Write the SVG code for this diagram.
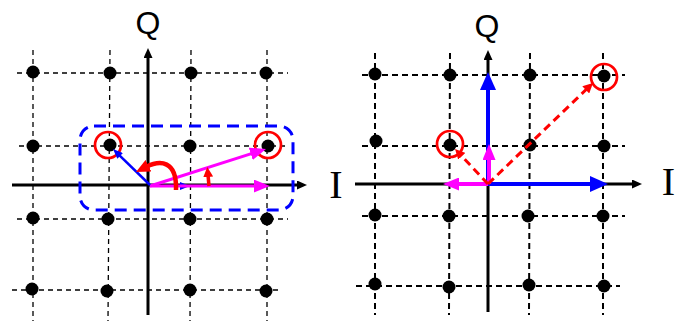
<svg xmlns="http://www.w3.org/2000/svg" width="685" height="321" viewBox="0 0 685 321">
<style>
.gl{stroke:#000;stroke-width:1.3;stroke-dasharray:5 4;fill:none}
.gr{stroke:#000;stroke-width:2;stroke-dasharray:6 4;fill:none}
.ax{stroke:#000;stroke-width:3;fill:none}
.dot{fill:#000}
.ring{fill:none;stroke:#ff0000;stroke-width:2.7}
.lbl{font-family:"Liberation Sans",Arial,sans-serif;font-size:32px;fill:#000}
.lblI{font-family:"Liberation Serif","Times New Roman",serif;font-size:40px;fill:#000}
</style>
<defs>
<marker id="mAx" markerUnits="userSpaceOnUse" markerWidth="10" markerHeight="9" viewBox="0 0 10 10" preserveAspectRatio="none" refX="2" refY="5" orient="auto"><path d="M0,0 L10,5 L0,10 z" fill="#000"/></marker>
<marker id="mMag" markerUnits="userSpaceOnUse" markerWidth="16" markerHeight="13" viewBox="0 0 10 10" preserveAspectRatio="none" refX="2" refY="5" orient="auto"><path d="M0,0 L10,5 L0,10 z" fill="#ff00ff"/></marker>
<marker id="mBlueB" markerUnits="userSpaceOnUse" markerWidth="18" markerHeight="16" viewBox="0 0 10 10" preserveAspectRatio="none" refX="2" refY="5" orient="auto"><path d="M0,0 L10,5 L0,10 z" fill="#0000ff"/></marker>
<marker id="mBlueS" markerUnits="userSpaceOnUse" markerWidth="10" markerHeight="8" viewBox="0 0 10 10" preserveAspectRatio="none" refX="2" refY="5" orient="auto"><path d="M0,0 L10,5 L0,10 z" fill="#0000ff"/></marker>
<marker id="mRed" markerUnits="userSpaceOnUse" markerWidth="10" markerHeight="10" viewBox="0 0 10 10" preserveAspectRatio="none" refX="2" refY="5" orient="auto"><path d="M0,0 L10,5 L0,10 z" fill="#ff0000"/></marker>
<marker id="mRedB" markerUnits="userSpaceOnUse" markerWidth="14" markerHeight="13" viewBox="0 0 10 10" preserveAspectRatio="none" refX="2" refY="5" orient="auto"><path d="M0,0 L10,5 L0,10 z" fill="#ff0000"/></marker>
</defs>

<g id="left-panel">
  <g id="left-grid">
    <line class="gl" x1="33" y1="50" x2="33" y2="321"/>
    <line class="gl" x1="110" y1="50" x2="108" y2="321"/>
    <line class="gl" x1="191" y1="50" x2="190" y2="321"/>
    <line class="gl" x1="267" y1="50" x2="267" y2="321"/>
    <line class="gl" x1="17" y1="73" x2="288" y2="73"/>
    <line class="gl" x1="19" y1="146" x2="288" y2="146"/>
    <line class="gl" x1="17" y1="219" x2="288" y2="219"/>
    <line class="gl" x1="12" y1="290" x2="282" y2="290"/>
  </g>
  <g id="left-axes">
    <line class="ax" x1="12" y1="185" x2="299" y2="185" marker-end="url(#mAx)"/>
    <line class="ax" x1="148" y1="315" x2="148" y2="56" marker-end="url(#mAx)"/>
    <text class="lbl" x="148" y="34" text-anchor="middle">Q</text>
    <text class="lblI" x="336" y="198" text-anchor="middle">I</text>
  </g>
  <g id="left-points">
    <circle class="dot" cx="33" cy="72" r="6.5"/><circle class="dot" cx="110" cy="73" r="6.5"/><circle class="dot" cx="191" cy="73" r="6.5"/><circle class="dot" cx="266" cy="73" r="6.5"/>
    <circle class="dot" cx="33" cy="146" r="6.5"/><circle class="dot" cx="110" cy="145" r="6.5"/><circle class="dot" cx="190" cy="146" r="6.5"/><circle class="dot" cx="268" cy="146" r="6.5"/>
    <circle class="dot" cx="33" cy="218" r="6.5"/><circle class="dot" cx="108" cy="219" r="6.5"/><circle class="dot" cx="190" cy="219" r="6.5"/><circle class="dot" cx="267" cy="219" r="6.5"/>
    <circle class="dot" cx="32" cy="289" r="6.5"/><circle class="dot" cx="107" cy="291" r="6.5"/><circle class="dot" cx="190" cy="290" r="6.5"/><circle class="dot" cx="266" cy="291" r="6.5"/>
  </g>
  <g id="left-highlight">
    <rect x="80" y="126" width="213" height="84" rx="14" fill="none" stroke="#0000ff" stroke-width="3" stroke-dasharray="12 7"/>
    <circle class="ring" cx="108" cy="145" r="13"/>
    <circle class="ring" cx="268" cy="145" r="13"/>
  </g>
  <g id="left-vectors">
    <line x1="150" y1="186" x2="182" y2="186" stroke="#0000ff" stroke-width="2" marker-end="url(#mBlueS)"/>
    <line x1="150" y1="186" x2="257" y2="186" stroke="#ff00ff" stroke-width="3" marker-end="url(#mMag)"/>
    <line x1="150" y1="186" x2="253.8" y2="152.9" stroke="#ff00ff" stroke-width="3" marker-end="url(#mMag)"/>
    <line x1="150" y1="185" x2="118.7" y2="154.6" stroke="#0000ff" stroke-width="2.5" marker-end="url(#mBlueS)"/>
    <path d="M176,190 C177,160 160,160 146,167" fill="none" stroke="#ff0000" stroke-width="4.5" marker-end="url(#mRedB)"/>
    <path d="M209,186 L208,175" fill="none" stroke="#ff0000" stroke-width="3.5" marker-end="url(#mRed)"/>
  </g>
</g>

<g id="right-panel">
  <g id="right-grid">
    <line class="gr" x1="375" y1="53" x2="375" y2="315"/>
    <line class="gr" x1="450" y1="53" x2="449" y2="315"/>
    <line class="gr" x1="530" y1="53" x2="529" y2="315"/>
    <line class="gr" x1="603" y1="53" x2="603" y2="315"/>
    <line class="gr" x1="362" y1="75" x2="625" y2="75"/>
    <line class="gr" x1="362" y1="146" x2="625" y2="146"/>
    <line class="gr" x1="362" y1="216" x2="625" y2="216"/>
    <line class="gr" x1="356" y1="286" x2="620" y2="286"/>
  </g>
  <g id="right-axes">
    <line class="ax" x1="355" y1="184" x2="634" y2="184" marker-end="url(#mAx)"/>
    <line class="ax" x1="488" y1="312" x2="488" y2="58" marker-end="url(#mAx)"/>
    <text class="lbl" x="487" y="37" text-anchor="middle">Q</text>
    <text class="lblI" x="668.5" y="195" text-anchor="middle">I</text>
  </g>
  <g id="right-points">
    <circle class="dot" cx="375" cy="74" r="6.5"/><circle class="dot" cx="450" cy="75" r="6.5"/><circle class="dot" cx="530" cy="75" r="6.5"/><circle class="dot" cx="604" cy="76" r="6.5"/>
    <circle class="dot" cx="376" cy="141" r="6.5"/><circle class="dot" cx="450" cy="145" r="6.5"/><circle class="dot" cx="530" cy="145" r="6.5"/><circle class="dot" cx="604" cy="146" r="6.5"/>
    <circle class="dot" cx="375" cy="215" r="6.5"/><circle class="dot" cx="449" cy="216" r="6.5"/><circle class="dot" cx="528" cy="216" r="6.5"/><circle class="dot" cx="603" cy="216" r="6.5"/>
    <circle class="dot" cx="375" cy="284" r="6.5"/><circle class="dot" cx="449" cy="287" r="6.5"/><circle class="dot" cx="529" cy="285" r="6.5"/><circle class="dot" cx="604" cy="286" r="6.5"/>
  </g>
  <g id="right-highlight">
    <circle class="ring" cx="450" cy="144" r="13"/>
    <circle class="ring" cx="604" cy="77" r="13"/>
  </g>
  <g id="right-vectors">
    <line x1="488" y1="184" x2="488" y2="86.4" stroke="#0000ff" stroke-width="4" marker-end="url(#mBlueB)"/>
    <line x1="488" y1="184" x2="593.6" y2="184" stroke="#0000ff" stroke-width="4" marker-end="url(#mBlueB)"/>
    <line x1="489" y1="184" x2="489" y2="156.8" stroke="#ff00ff" stroke-width="4" marker-end="url(#mMag)"/>
    <line x1="488" y1="184" x2="455.8" y2="184" stroke="#ff00ff" stroke-width="4" marker-end="url(#mMag)"/>
    <line x1="488" y1="184" x2="460.5" y2="154.8" stroke="#ff0000" stroke-width="3" stroke-dasharray="8 5" marker-end="url(#mRed)"/>
    <line x1="488" y1="184" x2="587.2" y2="88.5" stroke="#ff0000" stroke-width="3" stroke-dasharray="8 5" marker-end="url(#mRed)"/>
  </g>
</g>
</svg>
